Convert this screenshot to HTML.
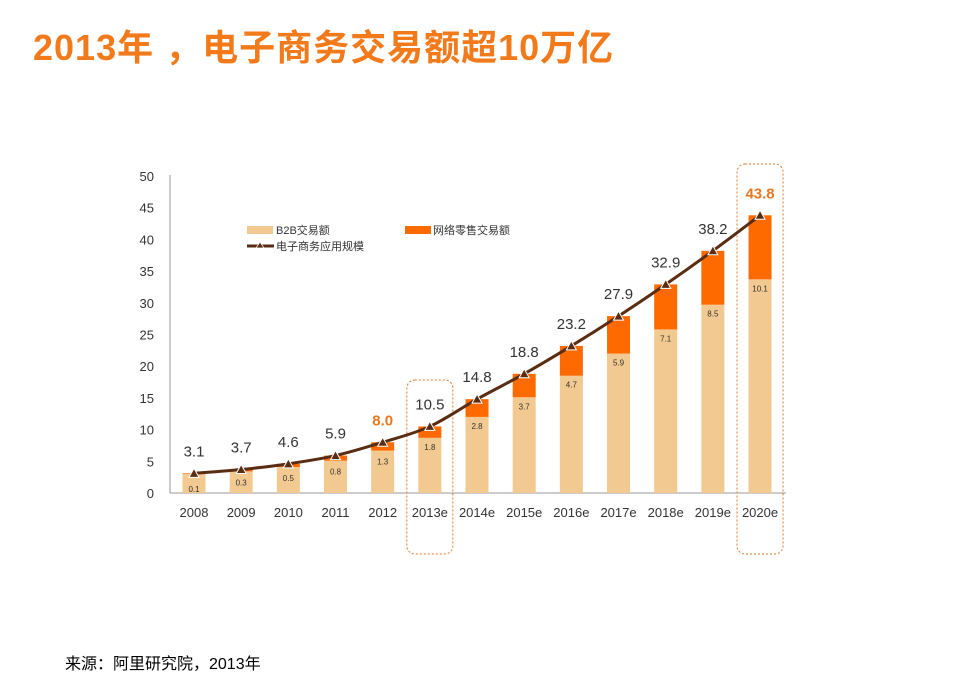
<!DOCTYPE html>
<html><head><meta charset="utf-8">
<style>
body{margin:0;background:#fff;width:960px;height:699px;overflow:hidden;position:relative;font-family:"Liberation Sans","Noto Sans CJK SC",sans-serif;}
#title{position:absolute;left:33px;top:19px;font-size:36px;font-weight:bold;color:#F27A1A;letter-spacing:1px;white-space:nowrap;font-family:"Liberation Sans","Noto Sans CJK SC",sans-serif;}
#src{position:absolute;left:65px;top:650px;font-size:16px;color:#000;}
svg{position:absolute;left:0;top:0;}
</style></head>
<body>
<div id="title">2013年 ，电子商务交易额超10万亿</div>
<div id="src">来源：阿里研究院，2013年</div>
<svg id="chart" width="960" height="699"></svg>
<script>
const categories=["2008","2009","2010","2011","2012","2013e","2014e","2015e","2016e","2017e","2018e","2019e","2020e"];
const totals=[3.1,3.7,4.6,5.9,8.0,10.5,14.8,18.8,23.2,27.9,32.9,38.2,43.8];
const retail=[0.1,0.3,0.5,0.8,1.3,1.8,2.8,3.7,4.7,5.9,7.1,8.5,10.1];
const yTicks=[0,5,10,15,20,25,30,35,40,45,50];
const highlighted=["2013e","2020e"];
const NS="http://www.w3.org/2000/svg";
const svg=document.getElementById('chart');
const x0=194,step=47.17,y0=493,ppu=6.34,bw=23;
const X=i=>x0+i*step, Y=v=>y0-v*ppu;
function mk(t,a,p){const e=document.createElementNS(NS,t);for(const k in a)e.setAttribute(k,a[k]);(p||svg).appendChild(e);return e;}
let ax=mk('line',{x1:170,y1:175,x2:170,y2:y0,stroke:'#999','stroke-width':1});

let axx=mk('line',{x1:170,y1:y0,x2:786,y2:y0,stroke:'#999','stroke-width':1});

yTicks.forEach(v=>{const t=mk('text',{x:154,y:Y(v)+5,'text-anchor':'end','font-size':13,fill:'#333'});t.textContent=v;
});
categories.forEach((c,i)=>{if(highlighted.includes(c)){const r=mk('rect',{x:X(i)-23,y:i==12?164:380,width:46,height:i==12?390:174,rx:8,fill:'none',stroke:'#E07A2A','stroke-dasharray':'2,2','stroke-width':1});
}});
categories.forEach((c,i)=>{const b2b=totals[i]-retail[i];
const a=mk('rect',{x:X(i)-bw/2,y:Y(b2b),width:bw,height:b2b*ppu,fill:'#F2C990'});

const r=mk('rect',{x:X(i)-bw/2,y:Y(totals[i]),width:bw,height:retail[i]*ppu,fill:'#FF6A00'});

const lt=mk('text',{x:X(i),y:Y(b2b)+(i<5?14:12)+(i==0?4:0),'text-anchor':'middle','font-size':8,fill:'#333'});lt.textContent=retail[i].toFixed(1);

const xl=mk('text',{x:X(i),y:517,'text-anchor':'middle','font-size':13,fill:'#333'});xl.textContent=c;

});
const pts=totals.map((v,i)=>[X(i),Y(v)]);
let d='M'+pts[0][0]+','+pts[0][1];
for(let i=0;i<pts.length-1;i++){const p0=pts[i-1]||pts[i],p1=pts[i],p2=pts[i+1],p3=pts[i+2]||p2;
const c1=[p1[0]+(p2[0]-p0[0])/6,p1[1]+(p2[1]-p0[1])/6],c2=[p2[0]-(p3[0]-p1[0])/6,p2[1]-(p3[1]-p1[1])/6];
d+=` C${c1[0]},${c1[1]} ${c2[0]},${c2[1]} ${p2[0]},${p2[1]}`;}
const ln=mk('path',{d:d,fill:'none',stroke:'#5A2D12','stroke-width':3});

pts.forEach((p,i)=>{const tr=mk('path',{d:`M${p[0]},${p[1]-5} L${p[0]+5},${p[1]+4} L${p[0]-5},${p[1]+4}Z`,fill:'#5A2D12',stroke:'#fff','stroke-width':1});

const hl=(i==4||i==12);
const t=mk('text',{x:p[0],y:p[1]-17,'text-anchor':'middle','font-size':15,fill:hl?'#E87722':'#333','font-weight':hl?'bold':'normal'});t.textContent=totals[i].toFixed(1);
});
const lg=mk('g',{});
let e1=mk('rect',{x:247,y:226,width:26,height:8,fill:'#F2C990'},lg);
let t1=mk('text',{x:276,y:234,'font-size':11,fill:'#333'},lg);t1.textContent='B2B交易额';
let e2=mk('rect',{x:405,y:226,width:26,height:8,fill:'#FF6A00'},lg);
let t2=mk('text',{x:433,y:234,'font-size':11,fill:'#333'},lg);t2.textContent='网络零售交易额';
let e3=mk('line',{x1:247,y1:246,x2:274,y2:246,stroke:'#5A2D12','stroke-width':3},lg);
mk('path',{d:'M260,242 L264,248 L256,248Z',fill:'#5A2D12',stroke:'#fff','stroke-width':0.7},lg);
let t3=mk('text',{x:276,y:250,'font-size':11,fill:'#333'},lg);t3.textContent='电子商务应用规模';
</script>
</body></html>
